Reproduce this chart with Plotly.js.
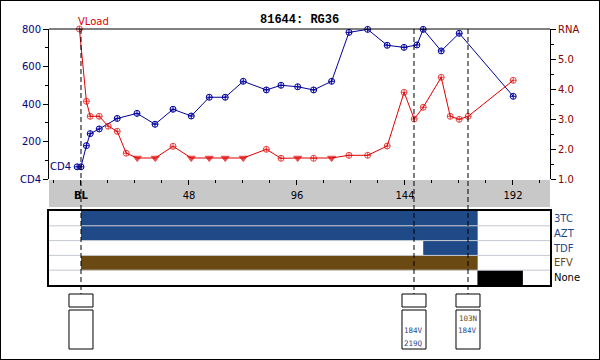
<!DOCTYPE html>
<html>
<head>
<meta charset="utf-8">
<script src="https://cdn.plot.ly/plotly-3.0.1.min.js"></script>
<style>html,body{margin:0;padding:0;background:#fff;}#chart{width:600px;height:360px;}</style>
</head>
<body>
<div id="chart"></div>
<script>
// ---------- data ----------
const chartTitle = "81644: RG36";
const cd4Weeks = [-1.7, 0, 2.4, 4.1, 8.1, 16.1, 24.9, 32.9, 40.9, 49, 57, 64.1, 72.1, 82.4, 88.9, 96.3, 103.4, 111.4, 119.1, 127.4, 136.1, 143.6, 149.3, 152.1, 160.1, 168.1, 192.1];
const cd4Values = [65, 65, 178, 242, 267, 323, 350, 292, 372, 336, 436, 436, 521, 475, 500, 492, 475, 521, 782, 798, 713, 702, 715, 798, 683, 777, 441];
const rnaWeeks = [-0.7, 2.4, 4.1, 8.1, 12.1, 16.1, 20.1, 25, 33, 40.9, 49, 57, 64.1, 72.1, 82.4, 88.9, 96.3, 103.4, 111.4, 119.1, 127.4, 136.1, 143.6, 148.1, 152.1, 160.1, 164.1, 168.1, 172.1, 192.1];
const rnaValues = [6.0, 3.59, 3.09, 3.09, 2.76, 2.59, 1.86, 1.7, 1.7, 2.09, 1.7, 1.7, 1.7, 1.7, 1.99, 1.69, 1.7, 1.69, 1.7, 1.79, 1.79, 2.1, 3.89, 3.0, 3.39, 4.39, 3.09, 2.99, 3.09, 4.29];
const rnaBelowLimit = [0,0,0,0,0,0,0,1,1,0,1,1,1,1,0,0,1,0,1,0,0,0,0,0,0,0,0,0,0,0];
const weekTickVals = [0, 48, 96, 144, 192];
const weekTickText = ["<b>BL</b>", "48", "96", "144", "192"];
const cd4TickVals = [0, 200, 400, 600, 800];
const cd4TickText = ["CD4", "200", "400", "600", "800"];
const rnaTickVals = [1, 2, 3, 4, 5, 6];
const rnaTickText = ["1.0", "2.0", "3.0", "4.0", "5.0", "RNA"];
const drugs = ["3TC", "AZT", "TDF", "EFV", "None"];
const drugStart = [0, 0, 152.1, 0, 176.2];
const drugEnd = [176.3, 176.3, 176.3, 176.3, 196.4];
const drugColors = ["#1f4a87", "#1f4a87", "#1f4a87", "#6b4913", "#000000"];
const genotypeWeeks = [0, 148, 172];
const genotypeMutations = [[], ["184V", "219Q"], ["103N", "184V"]];
const mutationOrder = ["103N", "184V", "219Q"];
const mutationColors = {"103N": "#6b4913", "184V": "#1f4a87", "219Q": "#1f4a87"};

// ---------- helpers (pixel -> paper) ----------
const W = 600, H = 360;
const px = x => x / W;
const py = y => 1 - y / H;
const plotL = 49, plotR = 550;
const xRange = [-14.22, 208.45];
const BLUE = "#00009c", RED = "#e00000", AXBLUE = "#000080", AXRED = "#8b0000";
const FONT = "DejaVu Sans";

const traces = [];
traces.push({
  x: cd4Weeks, y: cd4Values, xaxis: "x", yaxis: "y", type: "scatter", mode: "lines+markers",
  line: {color: BLUE, width: 1},
  marker: {symbol: "circle-cross-open", size: 6, color: BLUE, line: {width: 1, color: BLUE}},
  cliponaxis: false, hoverinfo: "skip"
});
traces.push({
  x: rnaWeeks, y: rnaValues, xaxis: "x", yaxis: "y2", type: "scatter", mode: "lines+markers",
  line: {color: RED, width: 1},
  marker: {
    symbol: rnaBelowLimit.map(b => b ? "triangle-down" : "circle-cross-open"),
    size: rnaBelowLimit.map(b => b ? 7 : 6),
    color: RED, line: {width: 1, color: RED}
  },
  cliponaxis: false, hoverinfo: "skip"
});
drugs.forEach((d, i) => {
  traces.push({
    type: "bar", orientation: "h", xaxis: "x2", yaxis: "y3",
    y: [i], base: [drugStart[i]], x: [drugEnd[i] - drugStart[i]], width: [1],
    marker: {color: drugColors[i], line: {width: 0}}, hoverinfo: "skip"
  });
});

const shapes = [];
// gray week band
shapes.push({type: "rect", xref: "paper", yref: "paper", x0: px(plotL), x1: px(plotR), y0: py(207), y1: py(180),
  fillcolor: "#c8c8c8", line: {width: 0}, layer: "below"});
// top frame of main plot
shapes.push({type: "line", xref: "paper", yref: "paper", x0: px(plotL), x1: px(plotR), y0: py(29), y1: py(29),
  line: {color: "#000", width: 1}});
// row separators in drug panel
for (let k = 0; k < drugs.length - 1; k++) {
  shapes.push({type: "line", xref: "paper", yref: "y3", x0: px(plotL), x1: px(plotR), y0: k + 0.5, y1: k + 0.5,
    line: {color: "#c4c9d0", width: 1}, layer: "above"});
}
// genotype dashed lines and boxes
genotypeWeeks.forEach((w, gi) => {
  shapes.push({type: "line", xref: "x", yref: "paper", x0: w, x1: w, y0: py(29), y1: py(294),
    line: {color: "#000", width: 1, dash: "5px,3px"}, layer: "above"});
  shapes.push({type: "rect", xref: "x", yref: "paper", xsizemode: "pixel", xanchor: w, x0: -12, x1: 12,
    y0: py(307), y1: py(294), fillcolor: "#fff", line: {color: "#000", width: 1}});
  shapes.push({type: "rect", xref: "x", yref: "paper", xsizemode: "pixel", xanchor: w, x0: -12, x1: 12,
    y0: py(349), y1: py(310), fillcolor: "#fff", line: {color: "#000", width: 1}});
});
// outer frame
shapes.push({type: "rect", xref: "paper", yref: "paper", x0: 0, x1: 1, y0: 0, y1: 1,
  line: {color: "#000", width: 2}, fillcolor: "rgba(0,0,0,0)"});

const annotations = [];
annotations.push({text: "<b>" + chartTitle + "</b>", xref: "paper", yref: "paper", x: px(299), y: py(20),
  xanchor: "center", yanchor: "middle", showarrow: false,
  font: {family: "Liberation Mono", size: 12, color: "#000"}});
annotations.push({text: "VLoad", xref: "paper", yref: "paper", x: px(76), y: py(21),
  xanchor: "left", yanchor: "middle", showarrow: false, font: {family: FONT, size: 10, color: RED}});
annotations.push({text: "CD4", xref: "paper", yref: "paper", x: px(73), y: py(166),
  xanchor: "right", yanchor: "middle", showarrow: false, font: {family: FONT, size: 10, color: AXBLUE}});
genotypeWeeks.forEach((w, gi) => {
  genotypeMutations[gi].forEach(m => {
    const row = mutationOrder.indexOf(m);
    annotations.push({text: m, xref: "x", yref: "paper", x: w, y: py(318 + row * 12.5),
      xanchor: "center", yanchor: "middle", showarrow: false,
      font: {family: "DejaVu Sans Mono", size: 7.5, color: mutationColors[m]}});
  });
});

const layout = {
  width: W, height: H, margin: {l: 0, r: 0, t: 0, b: 0, pad: 0},
  paper_bgcolor: "#fff", plot_bgcolor: "rgba(0,0,0,0)",
  showlegend: false, barmode: "overlay",
  font: {family: FONT, size: 10},
  xaxis: {
    domain: [px(plotL), px(plotR)], range: xRange, anchor: "y",
    showgrid: false, zeroline: false, showline: false,
    tickvals: weekTickVals, ticktext: weekTickText, ticks: "outside", ticklen: 5, tickcolor: "#000",
    ticklabelstandoff: 2,
    tickfont: {family: FONT, size: 10, color: "#000"},
    minor: {dtick: 12, tick0: 0, ticks: "outside", ticklen: 3, tickcolor: "#000", showgrid: false}
  },
  yaxis: {
    domain: [py(179), py(29)], range: [0, 800], anchor: "x",
    showgrid: false, zeroline: false, showline: true, linecolor: "#000", linewidth: 1,
    tickvals: cd4TickVals, ticktext: cd4TickText, ticks: "outside", ticklen: 5, tickcolor: "#000",
    tickfont: {family: FONT, size: 10, color: AXBLUE},
    minor: {dtick: 100, tick0: 0, ticks: "outside", ticklen: 3, tickcolor: "#000", showgrid: false}
  },
  yaxis2: {
    overlaying: "y", side: "right", anchor: "x", range: [1, 6],
    showgrid: false, zeroline: false, showline: true, linecolor: "#000", linewidth: 1,
    tickvals: rnaTickVals, ticktext: rnaTickText, ticks: "outside", ticklen: 5, tickcolor: "#000",
    tickfont: {family: FONT, size: 10, color: AXRED},
    minor: {dtick: 0.5, tick0: 0, ticks: "outside", ticklen: 3, tickcolor: "#000", showgrid: false}
  },
  xaxis2: {
    domain: [px(plotL), px(plotR)], range: xRange, anchor: "y3",
    showgrid: false, zeroline: false, showticklabels: false, ticks: "",
    showline: true, mirror: true, linecolor: "#000", linewidth: 2
  },
  yaxis3: {
    domain: [py(285), py(211)], range: [drugs.length - 0.5, -0.5], anchor: "x2", side: "right",
    showgrid: false, zeroline: false, ticks: "", showline: true, mirror: true, linecolor: "#000", linewidth: 2,
    tickvals: drugs.map((d, i) => i),
    ticktext: drugs.map((d, i) => '<span style="color:' + drugColors[i] + '">' + d + '</span>'),
    tickfont: {family: FONT, size: 10}
  },
  shapes: shapes,
  annotations: annotations
};

Plotly.newPlot("chart", traces, layout, {staticPlot: true, displayModeBar: false});
</script>
</body>
</html>
